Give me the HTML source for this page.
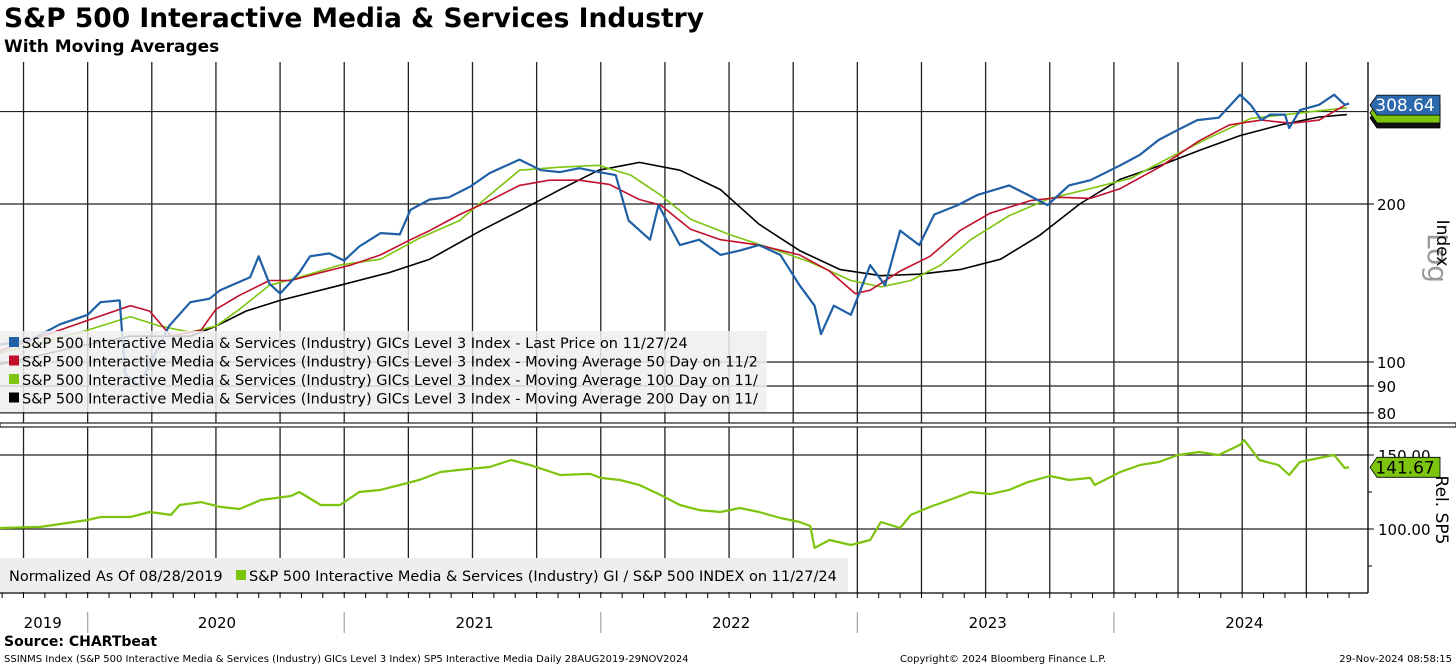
<!DOCTYPE html>
<html><head><meta charset="utf-8">
<style>
body{margin:0;background:#fff;width:1456px;height:666px;overflow:hidden;font-family:"Liberation Sans",sans-serif}
svg{display:block}
text{font-family:"DejaVu Sans","Liberation Sans",sans-serif}
</style></head>
<body>
<svg id="chart" width="1456" height="666">
<text x="4" y="27" font-size="26.5" font-weight="bold">S&amp;P 500 Interactive Media &amp; Services Industry</text>
<text x="4" y="52" font-size="17" font-weight="bold">With Moving Averages</text>
<g id="grid"></g>
<g id="series"></g>
<g id="legendTop">
<rect x="0" y="331" width="767" height="81" fill="#eeeeee" opacity="0.85"/>
</g>
<g id="axes"></g>
<text x="4" y="646" font-size="14" font-weight="bold">Source: CHARTbeat</text>
<text x="4" y="662" font-size="10">SSINMS Index (S&amp;P 500 Interactive Media &amp; Services (Industry) GICs Level 3 Index) SP5 Interactive Media  Daily 28AUG2019-29NOV2024</text>
<text x="900" y="662" font-size="10">Copyright© 2024 Bloomberg Finance L.P.</text>
<text x="1452" y="662" font-size="10" text-anchor="end">29-Nov-2024 08:58:15</text>
</svg>
<script>
// months since 28 Aug 2019
const priceMonths=[0,1.4,2.8,4.1,4.7,5.6,5.85,6.5,7.9,8.9,9.8,10.3,11.7,12.1,12.6,13.1,14,14.5,15.4,16.1,16.8,17.8,18.7,19.2,20.1,21,22,22.9,24.3,25.3,26.2,27.1,28,28.8,29.4,30.4,30.8,31.8,32.7,33.7,34.6,35.5,36.5,37.4,38.1,38.4,39,39.8,40.7,41.4,42.1,43,43.7,44.8,45.7,47.2,48.1,49,50,51,52.4,53.3,54.2,55.1,56,57,58,58.5,59,59.4,60.1,60.3,60.8,61.7,62.4,62.9,63.1];
const priceVals=[108,110,118,123,130,131,95,90,117,130,132,137,145,159,141,135,148,159,161,156,166,176,175,195,204,206,216,229,243,232,230,234,230,227,186,171,199,167,171,160,163,167,160,140,128,113,128,123,153,140,178,167,191,199,208,217,208,199,217,222,237,248,265,277,289,292,323,309,289,296,296,279,302,309,323,309,311];
const ma50Months=[0,4.1,6.1,7,8,9.4,10.1,11.2,12.6,13.6,15,16.4,17.8,19.2,20.1,21.5,22.9,24.3,25.7,27.1,28.5,29.9,30.9,32.3,33.7,35.5,37.4,38.8,40,40.7,42.1,43.5,44.9,46.3,48.2,49.6,51,52.4,54.3,56.1,57.5,59,60.4,61.7,63];
const ma50Vals=[105,120,128,125,112,115,126,134,143,143,148,153,160,171,178,191,203,217,222,222,218,204,199,179,171,167,160,149,135,137,149,159,178,192,203,206,205,214,236,264,283,289,285,289,310];
const ma100Months=[0,4.1,6.1,7.5,8.9,10.1,11.2,12.6,14,15.9,17.8,19.6,21.5,22.9,24.3,26.2,28,29.5,30.9,32.3,34.1,36,37.9,39.8,41.2,42.6,44,45.4,47.2,49.1,51,52.9,54.7,56.6,58.5,60.4,61.7,63];
const ma100Vals=[104,115,122,117,114,117,126,140,145,153,157,172,186,208,232,235,237,227,208,187,175,165,155,143,139,143,153,171,190,205,214,224,245,268,291,297,301,305];
const ma200Months=[0,4.1,6.1,8.9,10.1,11.5,13.1,15.9,18.2,20.1,22.5,24.3,26.2,28,29.9,31.8,33.7,35.5,37.4,39.3,41.2,43,44.9,46.8,48.6,50.5,52.4,54.3,56.1,58,59.9,61.7,63];
const ma200Vals=[99,108,112,112,117,125,131,140,148,157,178,194,213,232,240,232,213,183,163,150,146,147,150,157,174,200,223,237,253,270,283,293,296];
const relMonths=[0,1.9,4.1,4.7,6.1,7,8,8.4,9.4,10.3,11.2,12.2,13.6,14,15,15.9,16.8,17.8,18.7,19.6,20.6,21.5,22.9,23.9,24.8,26.2,27.6,28.1,29,29.9,30.9,31.8,32.7,33.7,34.6,35.5,36.5,37.4,37.9,38.1,38.8,39.8,40.7,41.2,42.1,42.6,43.5,44.4,45.4,46.3,47.2,48.1,49.1,50,51,51.2,52.4,53.3,54.2,55.1,56.1,57,58,58.2,58.9,59.8,60.3,60.8,61.7,62.4,62.9,63.1];
const relVals=[100.7,101.4,106.1,108.1,108.1,111.5,109.5,116.2,118.2,114.9,113.5,119.6,122.3,125,116.2,116.2,125,126.4,129.7,133.1,138.5,139.9,141.9,146.6,143.2,136.5,137.2,134.5,133.1,129.7,123,116.2,112.8,111.5,114.2,111.5,107.4,104.7,102,87.2,92.6,89.2,92.6,104.7,100.7,109.5,114.9,119.6,125,123.6,126.4,131.8,135.8,133.1,134.5,129.7,138.5,143.2,145.3,150,152,150,156.8,160.1,146.6,143.2,136.5,145.3,148,150,141.2,141.67];
const priceTicks=[80,90,100,200,300];
const priceTickLabels=["80","90","100","200",""];
const relTicks=[100,150];
const relTickLabels=["100.00","150.00"];
const yearLabels=["2019","2020","2021","2022","2023","2024"];
const yearLabelMonths=[2.0,10.15,22.2,34.2,46.2,58.2];
const yearStartMonths=[4.1,16.1,28.1,40.1,52.1];

const NS="http://www.w3.org/2000/svg";
const X0=0, PXM=21.38, RIGHT=1368;
const TOP=62, TOPB=422, BOT0=429, BOTB=593;
function xs(m){return X0+m*PXM;}
function ys(v){return 362-158*Math.log2(v/100);}
function yr(v){return 529-(v-100)*74/50;}
function mk(tag,attrs,parent){const e=document.createElementNS(NS,tag);for(const k in attrs)e.setAttribute(k,attrs[k]);parent.appendChild(e);return e;}
const grid=document.getElementById('grid'),series=document.getElementById('series'),axes=document.getElementById('axes'),lg=document.getElementById('legendTop');

for(let m=1.1;xs(m)<RIGHT;m+=3){
  const l=mk('line',{x1:xs(m),x2:xs(m),y1:TOP,y2:BOTB,stroke:'#222','stroke-width':1.3},grid);
  
  
}
priceTicks.forEach((t,i)=>{
  const y=ys(t);
  const l=mk('line',{x1:0,x2:RIGHT,y1:y,y2:y,stroke:'#222','stroke-width':1.2},grid);
  
  
  if(priceTickLabels[i]){
    mk('line',{x1:RIGHT,x2:RIGHT+6,y1:y,y2:y,stroke:'#000'},axes);
    const tx=mk('text',{x:RIGHT+9,y:y+6,'font-size':15},axes);tx.textContent=priceTickLabels[i];
    
    
  }
});
relTicks.forEach((t,i)=>{
  const y=yr(t);
  const l=mk('line',{x1:0,x2:RIGHT,y1:y,y2:y,stroke:'#222','stroke-width':1.2},grid);
  
  
  mk('line',{x1:RIGHT,x2:RIGHT+6,y1:y,y2:y,stroke:'#000'},axes);
  const tx=mk('text',{x:RIGHT+10,y:y+6,'font-size':15},axes);tx.textContent=relTickLabels[i];
  
  
});
[yr(125),yr(75)].forEach(y=>mk('line',{x1:RIGHT,x2:RIGHT+4,y1:y,y2:y,stroke:'#000'},axes));

function path(ms,vs,yf,color,w,name){
  let d='';ms.forEach((m,i)=>{d+=(i?'L':'M')+xs(m).toFixed(1)+' '+yf(vs[i]).toFixed(1);});
  const p=mk('path',{d:d,fill:'none',stroke:color,'stroke-width':w,'stroke-linejoin':'round'},series);
  
  
}
path(ma200Months,ma200Vals,ys,'#000',1.6,'ma200-line');
path(ma100Months,ma100Vals,ys,'#7dc40e',1.6,'ma100-line');
path(ma50Months,ma50Vals,ys,'#c0102a',1.6,'ma50-line');
path(priceMonths,priceVals,ys,'#1f5fa6',2.2,'price-line');
path(relMonths,relVals,yr,'#7dc40e',2.2,'relative-line');

mk('rect',{x:0,y:423,width:1456,height:4,fill:'#fff',stroke:'#333','stroke-width':1.3},axes);
mk('line',{x1:RIGHT,x2:RIGHT,y1:TOP,y2:BOTB,stroke:'#000','stroke-width':1.3},axes);
mk('line',{x1:0,x2:RIGHT,y1:BOTB,y2:BOTB,stroke:'#000','stroke-width':1.3},axes);
for(let m=0.1;xs(m)<RIGHT;m+=1){mk('line',{x1:xs(m),x2:xs(m),y1:BOTB,y2:BOTB+5,stroke:'#000'},axes);}
yearStartMonths.forEach(m=>{mk('line',{x1:xs(m),x2:xs(m),y1:612,y2:633,stroke:'#aaa','stroke-width':1.3},axes);});
yearLabels.forEach((t,i)=>{
  const tx=mk('text',{x:xs(yearLabelMonths[i]),y:628,'font-size':15,'text-anchor':'middle'},axes);tx.textContent=t;
  
  
});

const legTxt=["S&P 500 Interactive Media & Services (Industry) GICs Level 3 Index - Last Price on 11/27/24",
"S&P 500 Interactive Media & Services (Industry) GICs Level 3 Index - Moving Average 50 Day on 11/2",
"S&P 500 Interactive Media & Services (Industry) GICs Level 3 Index - Moving Average 100 Day on 11/",
"S&P 500 Interactive Media & Services (Industry) GICs Level 3 Index - Moving Average 200 Day on 11/"];
const legCol=['#1f5fa6','#c0102a','#7dc40e','#000'];
legTxt.forEach((t,i)=>{
  const y=348+i*18.5;
  mk('rect',{x:9,y:y-11,width:10,height:10,fill:legCol[i]},lg);
  const tx=mk('text',{x:22,y:y,'font-size':14.5},lg);tx.textContent=t;
  
  
});
const bl=mk('g',{},axes);


mk('rect',{x:0,y:558,width:848,height:34,fill:'#eeeeee'},bl);
const n1=mk('text',{x:9,y:581,'font-size':14.5},bl);n1.textContent='Normalized As Of 08/28/2019';
mk('rect',{x:236,y:570,width:10,height:10,fill:'#7dc40e'},bl);
const n2=mk('text',{x:249,y:581,'font-size':14.5},bl);n2.textContent='S&P 500 Interactive Media & Services (Industry) GI / S&P 500 INDEX on 11/27/24';

function tag(y,txt,fill,fg,name){
  const g=mk('g',{},axes);
  
  
  mk('path',{d:`M${RIGHT+2} ${y} L${RIGHT+9} ${y-10} L1440 ${y-10} L1440 ${y+10} L${RIGHT+9} ${y+10} Z`,fill:fill,stroke:'#000','stroke-width':0.8},g);
  if(txt){const t=mk('text',{x:1405,y:y+6,'font-size':17,'text-anchor':'middle',fill:fg},g);t.textContent=txt;}
}
tag(118,'',"#111",'#fff','ma200-tag');
tag(113,'',"#7dc40e",'#000','ma100-tag');
tag(ys(308.64),'308.64','#2c6aad','#fff','price-tag');
tag(yr(141.67),'141.67','#7dc40e','#000','rel-tag');

const t1=mk('text',{transform:'translate(1428,258) rotate(90)','font-size':28,fill:'#999','text-anchor':'middle'},axes);t1.textContent='Log';


const t3=mk('text',{transform:'translate(1437,243) rotate(90)','font-size':17,'text-anchor':'middle'},axes);t3.textContent='Index';


const t4=mk('text',{transform:'translate(1436,510) rotate(90)','font-size':17,'text-anchor':'middle'},axes);t4.textContent='Rel. SP5';


</script>
</body></html>
